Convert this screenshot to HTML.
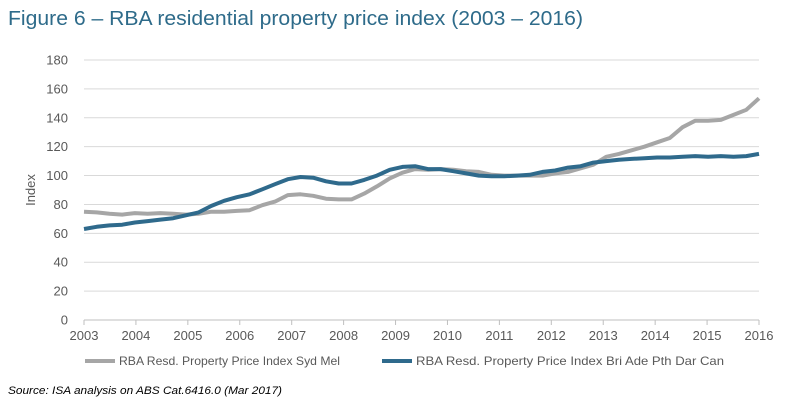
<!DOCTYPE html>
<html><head><meta charset="utf-8"><style>
body{margin:0;background:#fff;font-family:"Liberation Sans",sans-serif;}
svg{display:block}
</style></head><body>
<svg width="785" height="402">
<text x="8" y="25" font-size="20" fill="#2e6b8a" textLength="575" lengthAdjust="spacingAndGlyphs">Figure 6 – RBA residential property price index (2003 – 2016)</text>
<g id="grid"></g><g id="ylab"></g><g id="xlab"></g><g id="series"></g>
<text transform="translate(35,190) rotate(-90)" text-anchor="middle" font-size="13" fill="#595959">Index</text>
<g>
<line x1="85" y1="361" x2="115" y2="361" stroke="#a6a6a6" stroke-width="4"/>
<text x="119" y="365" font-size="12" fill="#595959" textLength="221" lengthAdjust="spacingAndGlyphs">RBA Resd. Property Price Index Syd Mel</text>
<line x1="382" y1="361" x2="412" y2="361" stroke="#2f6a8c" stroke-width="4"/>
<text x="416" y="365" font-size="12" fill="#595959" textLength="308" lengthAdjust="spacingAndGlyphs">RBA Resd. Property Price Index Bri Ade Pth Dar Can</text>
</g>
<text x="8" y="394" font-size="11" font-style="italic" fill="#000" textLength="274" lengthAdjust="spacingAndGlyphs">Source: ISA analysis on ABS Cat.6416.0 (Mar 2017)</text>
</svg>
<script>
const yTicks=[0,20,40,60,80,100,120,140,160,180];
const years=[2003,2004,2005,2006,2007,2008,2009,2010,2011,2012,2013,2014,2015,2016];
const sydMel=[75,74.5,73.5,73,74,73.5,74,73.5,73,73.5,75,75,75.5,76,79.5,82,86.5,87,86,84,83.5,83.5,87.5,92.5,98,102,104.5,104,104.5,104,103,102.5,100.5,100,100,100,100,101.5,102.5,105,107.5,113,115,117.5,120,123,126,133.5,138,138,138.5,142,145.5,153.5];
const briAde=[63,64.5,65.5,66,67.5,68.5,69.5,70.5,72.5,74.5,79,82.5,85,87,90.5,94,97.5,99,98.5,96,94.5,94.5,97,100,104,106,106.5,104.5,104.5,103,101.5,100,99.5,99.5,100,100.5,102.5,103.5,105.5,106.5,109,110,111,111.5,112,112.5,112.5,113,113.5,113,113.5,113,113.5,115];
const NS="http://www.w3.org/2000/svg";
const X0=84,X1=759,Y0=320,Y1=60;
const xs=t=>X0+(t-2003)/13*(X1-X0);
const ys=v=>Y0-v/180*(Y0-Y1);
function mk(tag,attrs,parent){const e=document.createElementNS(NS,tag);for(const k in attrs)e.setAttribute(k,attrs[k]);document.getElementById(parent).appendChild(e);return e;}
yTicks.forEach(v=>{
 const l=mk('line',{x1:X0,x2:X1,y1:ys(v),y2:ys(v),stroke:v===0?'#bfbfbf':'#d9d9d9','stroke-width':1},'grid');
 
 
 const t=mk('text',{x:68,y:ys(v)+4.5,'text-anchor':'end','font-size':13,fill:'#595959'},'ylab');
 t.textContent=v;
 
 
});
years.forEach(y=>{
 const tk=mk('line',{x1:xs(y),x2:xs(y),y1:Y0,y2:Y0+5,stroke:'#bfbfbf'},'grid');
 
 
 const t=mk('text',{x:xs(y),y:Y0+20,'text-anchor':'middle','font-size':13,fill:'#595959'},'xlab');
 t.textContent=y;
 
 
});
function line(data,color,name){
 const n=data.length;
 const pts=data.map((v,i)=>xs(2003+i*13/(n-1)).toFixed(1)+','+ys(v).toFixed(1)).join(' ');
 const p=mk('polyline',{points:pts,fill:'none',stroke:color,'stroke-width':4,'stroke-linejoin':'round'},'series');
 
 
}
line(sydMel,'#a6a6a6','line-syd-mel');
line(briAde,'#2f6a8c','line-bri-ade');
</script>
</body></html>
